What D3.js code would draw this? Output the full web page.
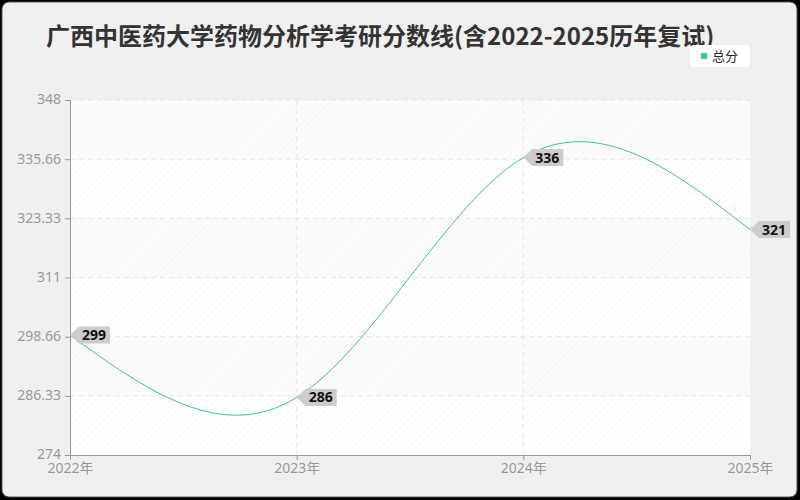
<!DOCTYPE html>
<html>
<head>
<meta charset="utf-8">
<script src="https://cdn.jsdelivr.net/npm/d3@7"></script>
<style>
  html, body { margin: 0; padding: 0; background: #000; }
  svg { display: block; font-family: "Noto Sans CJK SC", "Noto Sans", sans-serif; }
</style>
</head>
<body>
<div id="chart"></div>
<script>
var years = [2022, 2023, 2024, 2025];
var yearLabels = ["2022年", "2023年", "2024年", "2025年"];
var scores = [299, 286, 336, 321];
var yTicks = [274, 286.33, 298.66, 311, 323.33, 335.66, 348];
var seriesName = "总分";
var title = "广西中医药大学药物分析学考研分数线(含2022-2025历年复试)";

function init() {
  var w = 800, h = 500;
  var padL = 70, padR = 750, padT = 100, padB = 455;
  var green = "#3cc495";

  var svg = d3.select("#chart").append("svg")
    .attr("width", w).attr("height", h);

  var defs = svg.append("defs");
  var pat = defs.append("pattern")
    .attr("id", "hatch")
    .attr("patternUnits", "userSpaceOnUse")
    .attr("width", 5).attr("height", 5)
    .attr("patternTransform", "rotate(45)");
  pat.append("line")
    .attr("x1", 0).attr("y1", 0).attr("x2", 0).attr("y2", 5)
    .attr("stroke", "#efefef").attr("stroke-width", 1);

  // panel
  svg.append("rect")
    .attr("x", 2).attr("y", 2).attr("width", w - 5).attr("height", h - 5)
    .attr("rx", 7)
    .attr("fill", "#f0f0f0")
    .attr("stroke", "#555").attr("stroke-width", 1);

  var x = d3.scaleLinear().domain([2022, 2025]).range([padL, padR]);
  var y = d3.scaleLinear().domain([274, 348]).range([padB, padT]);

  // plot background, alternating bands
  for (var i = 0; i < yTicks.length - 1; i++) {
    svg.append("rect")
      .attr("x", padL).attr("y", y(yTicks[i + 1]))
      .attr("width", padR - padL)
      .attr("height", y(yTicks[i]) - y(yTicks[i + 1]))
      .attr("fill", i % 2 === 0 ? "#ffffff" : "#fbfbfb");
  }
  svg.append("rect")
    .attr("x", padL).attr("y", padT)
    .attr("width", padR - padL).attr("height", padB - padT)
    .attr("fill", "url(#hatch)").attr("opacity", 0.8);

  // grid
  svg.append("g").selectAll("line")
    .data(yTicks.slice(1))
    .join("line")
    .attr("x1", padL).attr("x2", padR)
    .attr("y1", function(d) { return y(d); })
    .attr("y2", function(d) { return y(d); })
    .attr("stroke", "#e6e6e6").attr("stroke-dasharray", "5,4");
  svg.append("g").selectAll("line")
    .data(years.slice(1, years.length - 1))
    .join("line")
    .attr("x1", function(d) { return x(d); })
    .attr("x2", function(d) { return x(d); })
    .attr("y1", padT).attr("y2", padB)
    .attr("stroke", "#e6e6e6").attr("stroke-dasharray", "5,4");

  // axes
  var yAxis = d3.axisLeft(y).tickValues(yTicks).tickSize(5).tickPadding(4)
    .tickFormat(function(d) { return String(d); });
  var gy = svg.append("g")
    .attr("transform", "translate(" + padL + ",0)")
    .call(yAxis);
  var xAxis = d3.axisBottom(x).tickValues(years).tickSize(5).tickPadding(3)
    .tickFormat(function(d, i) { return yearLabels[i]; });
  var gx = svg.append("g")
    .attr("transform", "translate(0," + padB + ")")
    .call(xAxis);
  [gx, gy].forEach(function(g) {
    g.select(".domain").attr("stroke", "#999");
    g.selectAll(".tick line").attr("stroke", "#999");
    g.selectAll(".tick text")
      .attr("fill", "#999")
      .style("font-size", "14px")
      .style("font-family", "'Noto Sans', 'Noto Sans CJK SC', sans-serif");
  });
  gy.selectAll(".tick text").attr("dy", "0.28em");

  // line
  var data = years.map(function(d, i) { return { year: d, v: scores[i] }; });
  var line = d3.line()
    .x(function(d) { return x(d.year); })
    .y(function(d) { return y(d.v); })
    .curve(d3.curveNatural);
  svg.append("path")
    .datum(data)
    .attr("fill", "none")
    .attr("stroke", green)
    .attr("stroke-width", 1)
    .attr("d", line);

  // value labels
  var lab = svg.append("g").selectAll("g")
    .data(data)
    .join("g")
    .attr("transform", function(d) { return "translate(" + x(d.year) + "," + y(d.v) + ")"; });
  lab.append("path")
    .attr("d", "M0,0 L9,-8.5 L40,-8.5 L40,8.5 L9,8.5 Z")
    .attr("fill", "#cccccc");
  lab.append("text")
    .attr("x", 12).attr("y", 5)
    .attr("fill", "#111")
    .style("font-size", "14px")
    .style("font-weight", "bold")
    .style("font-family", "'Noto Sans', sans-serif")
    .text(function(d) { return d.v; });

  // title
  svg.append("text")
    .attr("x", 46).attr("y", 45)
    .attr("fill", "#333")
    .style("font-size", "24px")
    .style("font-weight", "bold")
    .text(title);

  // legend
  var lg = svg.append("g").attr("transform", "translate(690,45)");
  lg.append("rect")
    .attr("width", 60).attr("height", 22).attr("rx", 4)
    .attr("fill", "#fff");
  lg.append("rect")
    .attr("x", 11).attr("y", 8).attr("width", 6).attr("height", 6)
    .attr("fill", green);
  lg.append("text")
    .attr("x", 22).attr("y", 16)
    .attr("fill", "#222")
    .style("font-size", "13px")
    .text(seriesName);
}

window.onload = init;
</script>
</body>
</html>
